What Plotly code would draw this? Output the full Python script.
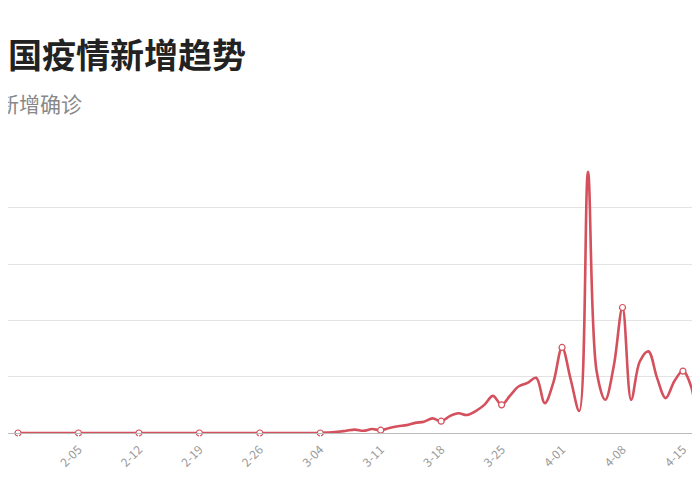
import plotly.graph_objects as go

# daily new confirmed (unit: 1 grid step = 1), from 1-29 to 4-18
days = list(range(81))
values = [0]*35 + [
    0.0, 0.01, 0.02, 0.04, 0.06, 0.04, 0.07, 0.05, 0.09, 0.12,  # 3-04 .. 3-13
    0.14, 0.18, 0.2, 0.26, 0.21, 0.3, 0.35, 0.32, 0.39, 0.5,   # 3-14 .. 3-23
    0.66, 0.5, 0.67, 0.83, 0.89, 0.98, 0.53, 0.9, 1.52, 0.95,  # 3-24 .. 4-02
    0.39, 4.64, 1.1, 0.59, 1.2, 2.23, 0.59, 1.27, 1.45, 0.98,  # 4-03 .. 4-12
    0.62, 0.92, 1.1, 0.8, 0.0, 0.3,                            # 4-13 .. 4-18
]
tick_days = [0, 7, 14, 21, 28, 35, 42, 49, 56, 63, 70, 77]
tick_labels = ["1-29", "2-05", "2-12", "2-19", "2-26", "3-04", "3-11",
               "3-18", "3-25", "4-01", "4-08", "4-15"]

red = "#d4505c"
fig = go.Figure()
fig.add_trace(go.Scatter(x=days, y=values, mode="lines",
                         line=dict(color=red, width=2.6, shape="spline", smoothing=1),
                         hoverinfo="skip"))
fig.add_trace(go.Scatter(x=tick_days, y=[values[d] for d in tick_days], mode="markers",
                         marker=dict(color="white", size=6, line=dict(color=red, width=1.2)),
                         hoverinfo="skip", cliponaxis=False))

fig.add_annotation(text="<b>国疫情新增趋势</b>", xref="paper", yref="paper", x=0, y=1,
                   xanchor="left", yanchor="middle", xshift=-2, yshift=143 - 45,
                   showarrow=False, font=dict(size=34, color="#222", family="Noto Sans CJK SC"))
fig.add_annotation(text="新增确诊", xref="paper", yref="paper", x=0, y=1, xanchor="left",
                   yanchor="middle", xshift=-12, yshift=143 - 95, showarrow=False,
                   font=dict(size=21, color="#888", family="Noto Sans CJK SC"))

fig.update_layout(
    width=700, height=500, showlegend=False,
    plot_bgcolor="white", paper_bgcolor="white",
    margin=dict(l=0, r=0, t=143, b=75, autoexpand=False),
    font=dict(family="Noto Sans CJK SC"),
)

fig.update_xaxes(range=[-1.16, 79.9], tickvals=tick_days, ticktext=tick_labels,
                 tickangle=-45, tickfont=dict(size=12, color="#999"),
                 showgrid=False, zeroline=False, showline=True, linecolor="#bbb",
                 ticks="outside", ticklen=4, tickcolor="white", automargin=False,
                 fixedrange=True)
fig.update_yaxes(range=[0, 5.01], dtick=1, showticklabels=False, gridcolor="#e3e3e3",
                 zeroline=False, automargin=False, fixedrange=True)

fig.write_html("out.html")
